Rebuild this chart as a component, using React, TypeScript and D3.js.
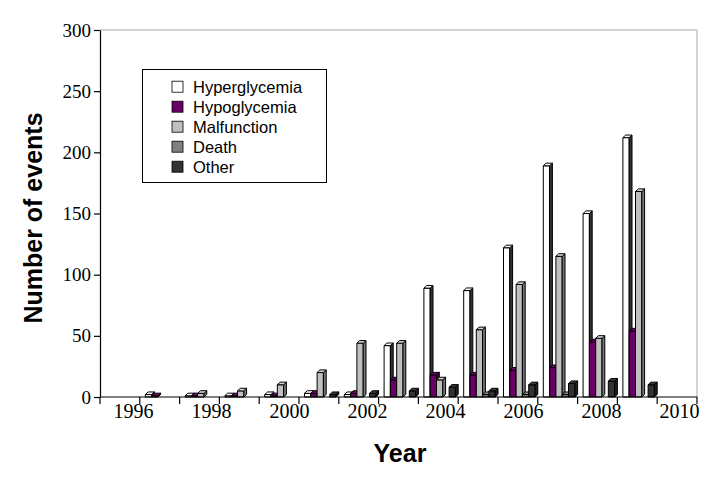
import React, { useEffect, useRef } from 'react';
import * as d3 from 'd3';

const years = [1996, 1997, 1998, 1999, 2000, 2001, 2002, 2003, 2004, 2005, 2006, 2007, 2008, 2009, 2010];
const seriesNames = ['Hyperglycemia', 'Hypoglycemia', 'Malfunction', 'Death', 'Other'];
const seriesColors = ['#ffffff', '#680068', '#c0c0c0', '#808080', '#333333'];

const hyperglycemia = [0, 2, 1, 1, 2, 3, 2, 42, 89, 87, 122, 189, 150, 212, 0];
const hypoglycemia = [0, 1, 1, 1, 1, 3, 3, 14, 18, 18, 22, 24, 45, 54, 0];
const malfunction = [0, 0, 3, 5, 10, 20, 44, 44, 14, 55, 92, 115, 48, 168, 0];
const death = [0, 0, 0, 0, 0, 0, 0, 0, 0, 2, 2, 2, 0, 0, 0];
const other = [0, 0, 0, 0, 0, 2, 3, 5, 8, 5, 10, 11, 13, 10, 0];

const yTicks = [0, 50, 100, 150, 200, 250, 300];
const xLabelYears = ['1996', '1998', '2000', '2002', '2004', '2006', '2008', '2010'];

const App = () => {
    const svgRef = useRef(null);

    useEffect(() => {
        const svg = d3.select(svgRef.current);
        svg.selectAll('*').remove();

        const width = 724, height = 486;
        const margin = { left: 100, right: 27, top: 30, bottom: 89 };
        const serif = 'Liberation Serif, DejaVu Serif, serif';
        const sans = 'Liberation Sans, Arial, Helvetica, sans-serif';

        const x = d3.scaleBand()
            .domain(years.map(String))
            .range([margin.left, width - margin.right]);
        const inner = d3.scaleBand()
            .domain(seriesNames)
            .range([5.5, 37]);
        const y = d3.scaleLinear()
            .domain([0, 300])
            .range([height - margin.bottom, margin.top]);
        // the printed year labels drift a little from the category centres
        const xLabel = d3.scalePoint()
            .domain(xLabelYears)
            .range([133, 679]);

        const values = [hyperglycemia, hypoglycemia, malfunction, death, other];
        const depthX = 2.8, depthY = 2.6;
        const w = inner.bandwidth();
        const y0 = y(0);

        // plot frame (top / right, light gray)
        svg.append('path')
            .attr('d', `M${margin.left},${margin.top}H${width - margin.right}V${y0}`)
            .attr('fill', 'none')
            .attr('stroke', '#a8a8a8')
            .attr('stroke-width', 1);

        // bars, drawn left to right so each covers the previous side face
        const bars = svg.append('g').attr('stroke', '#000').attr('stroke-width', 1).attr('stroke-linejoin', 'round');
        years.forEach((yr, i) => {
            seriesNames.forEach((s, j) => {
                const v = values[j][i];
                if (!v) return;
                const bx = x(String(yr)) + inner(s);
                const by = y(v);
                const col = seriesColors[j];
                const side = j === 0 ? '#333' : d3.color(col).darker(1.4).toString();
                const topc = j === 0 ? '#fff' : d3.color(col).brighter(0.3).toString();
                bars.append('rect')
                    .attr('x', bx).attr('y', by)
                    .attr('width', w).attr('height', y0 - by)
                    .attr('fill', col);
                bars.append('path')
                    .attr('d', `M${bx + w},${by}L${bx + w + depthX},${by - depthY}L${bx + w + depthX},${y0 - depthY}L${bx + w},${y0}Z`)
                    .attr('fill', side);
                bars.append('path')
                    .attr('d', `M${bx},${by}L${bx + depthX},${by - depthY}L${bx + w + depthX},${by - depthY}L${bx + w},${by}Z`)
                    .attr('fill', topc);
            });
        });

        // y axis
        const yAxis = svg.append('g')
            .attr('transform', `translate(${margin.left},0)`)
            .call(d3.axisLeft(y).tickValues(yTicks).tickSize(6).tickSizeOuter(0).tickPadding(3));
        yAxis.attr('font-family', serif).attr('font-size', 19);
        yAxis.select('.domain').attr('stroke', '#000').attr('stroke-width', 1.2);
        yAxis.selectAll('.tick line').attr('stroke', '#000').attr('stroke-width', 1.2);
        yAxis.selectAll('.tick text')
            .style('font-family', serif).style('font-size', '19px').attr('fill', '#000');

        // x axis: baseline, category boundary ticks, labels
        svg.append('line')
            .attr('x1', margin.left).attr('x2', width - margin.right)
            .attr('y1', y0).attr('y2', y0)
            .attr('stroke', '#000').attr('stroke-width', 1.2);

        const bounds = years.map(yr => x(String(yr))).concat([x.range()[1]]);
        svg.append('g')
            .selectAll('line')
            .data(bounds)
            .join('line')
            .attr('x1', d => d).attr('x2', d => d)
            .attr('y1', y0).attr('y2', y0 + 7)
            .attr('stroke', '#000').attr('stroke-width', 1.2);

        const xAxis = svg.append('g')
            .attr('transform', `translate(0,${y0})`)
            .call(d3.axisBottom(xLabel).tickSize(0).tickSizeOuter(0).tickPadding(7));
        xAxis.attr('font-family', serif).attr('font-size', 20);
        xAxis.select('.domain').remove();
        xAxis.selectAll('.tick text')
            .style('font-family', serif).style('font-size', '20px').attr('fill', '#000')
            .attr('dy', '0.71em');

        // axis titles
        svg.append('text')
            .attr('transform', 'translate(42,218) rotate(-90)')
            .attr('text-anchor', 'middle')
            .attr('font-family', sans).attr('font-weight', 'bold').attr('font-size', 25)
            .text('Number of events');
        svg.append('text')
            .attr('x', 400).attr('y', 462)
            .attr('text-anchor', 'middle')
            .attr('font-family', sans).attr('font-weight', 'bold').attr('font-size', 25)
            .text('Year');

        // legend
        const legend = svg.append('g');
        legend.append('rect')
            .attr('x', 142.5).attr('y', 69.5).attr('width', 184).attr('height', 113)
            .attr('fill', '#fff').attr('stroke', '#000').attr('stroke-width', 1);
        const rows = legend.selectAll('g.row')
            .data(seriesNames)
            .join('g')
            .attr('class', 'row')
            .attr('transform', (d, i) => `translate(172,${86.7 + i * 20})`);
        rows.append('rect')
            .attr('x', 0).attr('y', -5.5).attr('width', 11).attr('height', 11)
            .attr('fill', (d, i) => seriesColors[i])
            .attr('stroke', '#000').attr('stroke-width', 0.8);
        rows.append('text')
            .attr('x', 21).attr('y', 6)
            .attr('font-family', sans).attr('font-size', 16.5)
            .text(d => d);
    }, []);

    return (
        <svg ref={svgRef} width={724} height={486}
            style={{ position: 'absolute', left: 0, top: 0, background: '#fff' }}></svg>
    );
};

export default App;
